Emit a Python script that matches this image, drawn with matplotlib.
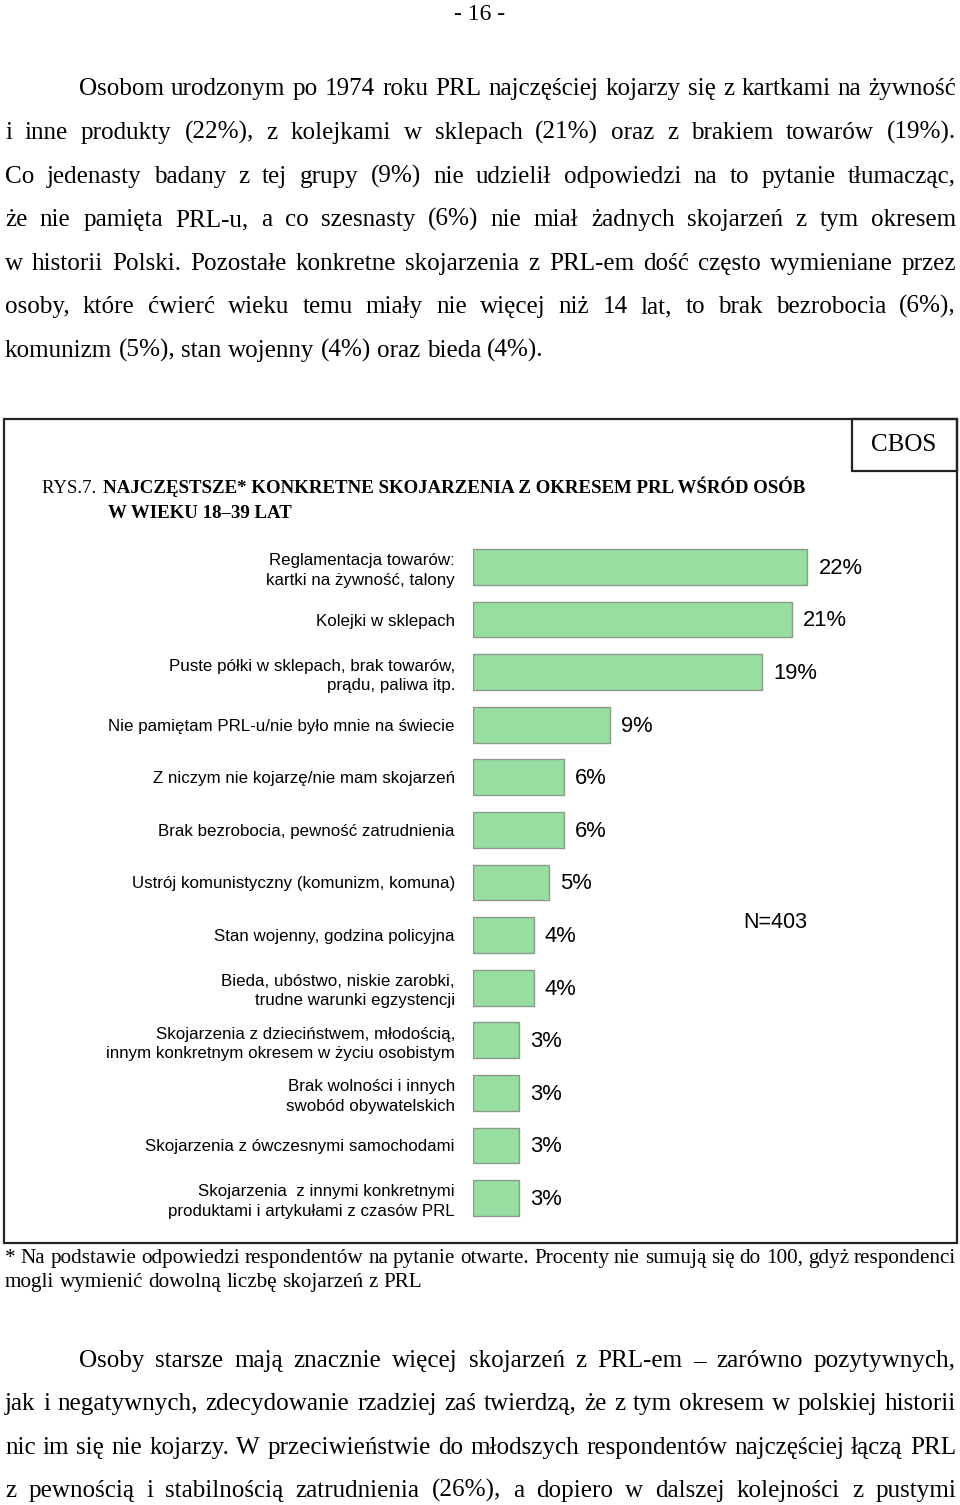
import matplotlib
matplotlib.use('Agg')
import matplotlib.pyplot as plt
from matplotlib.patches import Rectangle

# chart data
categories = [
    'Reglamentacja towarów:\nkartki na żywność, talony',
    'Kolejki w sklepach',
    'Puste półki w sklepach, brak towarów,\nprądu, paliwa itp.',
    'Nie pamiętam PRL-u/nie było mnie na świecie',
    'Z niczym nie kojarzę/nie mam skojarzeń',
    'Brak bezrobocia, pewność zatrudnienia',
    'Ustrój komunistyczny (komunizm, komuna)',
    'Stan wojenny, godzina policyjna',
    'Bieda, ubóstwo, niskie zarobki,\ntrudne warunki egzystencji',
    'Skojarzenia z dzieciństwem, młodością,\ninnym konkretnym okresem w życiu osobistym',
    'Brak wolności i innych\nswobód obywatelskich',
    'Skojarzenia z ówczesnymi samochodami',
    'Skojarzenia  z innymi konkretnymi\nproduktami i artykułami z czasów PRL',
]
values = [22, 21, 19, 9, 6, 6, 5, 4, 4, 3, 3, 3, 3]

title_prefix = 'RYS.7. '
title_line1 = 'NAJCZĘSTSZE* KONKRETNE SKOJARZENIA Z OKRESEM PRL WŚRÓD OSÓB'
title_line2 = 'W WIEKU 18–39 LAT'
sample_note = 'N=403'
source = 'CBOS'
page_no = '- 16 -'

para1 = [
    'Osobom urodzonym po 1974 roku PRL najczęściej kojarzy się z kartkami na żywność',
    'i inne produkty (22%), z kolejkami w sklepach (21%) oraz z brakiem towarów (19%).',
    'Co jedenasty badany z tej grupy (9%) nie udzielił odpowiedzi na to pytanie tłumacząc,',
    'że nie pamięta PRL-u, a co szesnasty (6%) nie miał żadnych skojarzeń z tym okresem',
    'w historii Polski. Pozostałe konkretne skojarzenia z PRL-em dość często wymieniane przez',
    'osoby, które ćwierć wieku temu miały nie więcej niż 14 lat, to brak bezrobocia (6%),',
    'komunizm (5%), stan wojenny (4%) oraz bieda (4%).',
]
footnote = [
    '* Na podstawie odpowiedzi respondentów na pytanie otwarte. Procenty nie sumują się do 100, gdyż respondenci',
    'mogli wymienić dowolną liczbę skojarzeń z PRL',
]
para2 = [
    'Osoby starsze mają znacznie więcej skojarzeń z PRL-em – zarówno pozytywnych,',
    'jak i negatywnych, zdecydowanie rzadziej zaś twierdzą, że z tym okresem w polskiej historii',
    'nic im się nie kojarzy. W przeciwieństwie do młodszych respondentów najczęściej łączą PRL',
    'z pewnością i stabilnością zatrudnienia (26%), a dopiero w dalszej kolejności z pustymi',
]

W, H = 960, 1505
fig = plt.figure(figsize=(W / 100, H / 100), dpi=100)

# page overlay in pixel coordinates
page = fig.add_axes([0, 0, 1, 1])
page.set_xlim(0, W)
page.set_ylim(H, 0)
page.axis('off')
page.patch.set_alpha(0)

renderer = fig.canvas.get_renderer()
SERIF = 'Liberation Serif'
SANS = 'Liberation Sans'


def text_width(s, size):
    t = page.text(0, 0, s, fontsize=size, family=SERIF)
    w = t.get_window_extent(renderer).width
    t.remove()
    return w


def write_line(text, x0, x1, y, size, justify=True):
    words = text.split()
    objs = []
    widths = []
    for w in words:
        t = page.text(0, y, w, fontsize=size, family=SERIF, va='baseline', ha='left')
        objs.append(t)
        widths.append(t.get_window_extent(renderer).width)
    if justify and len(words) > 1:
        gap = (x1 - x0 - sum(widths)) / (len(words) - 1)
    else:
        gap = text_width('a a', size) - 2 * text_width('a', size)
    x = x0
    for t, w in zip(objs, widths):
        t.set_x(x)
        x += w + gap


page.text(480, 20, page_no, fontsize=17, family=SERIF, ha='center', va='baseline')

ys1 = [95, 139, 183, 226, 270, 313, 357]
for i, (line, y) in enumerate(zip(para1, ys1)):
    x0 = 79 if i == 0 else 5
    write_line(line, x0, 956, y, 18.1, justify=(i < len(para1) - 1))

ys2 = [1367, 1410, 1454, 1497]
for i, (line, y) in enumerate(zip(para2, ys2)):
    x0 = 79 if i == 0 else 5
    write_line(line, x0, 956, y, 18.1, justify=True)

write_line(footnote[0], 5, 956, 1263, 15.2, justify=True)
write_line(footnote[1], 5, 956, 1287, 15.2, justify=False)

# chart frame and source box
page.add_patch(Rectangle((4, 419), 953, 824, fill=False, lw=1.6, ec='#222222'))
page.add_patch(Rectangle((852, 419), 105, 52, fill=False, lw=1.6, ec='#222222'))
page.text(904, 445, source, fontsize=18, family=SERIF, ha='center', va='center')

# title
page.text(42, 493, title_prefix, fontsize=13.5, family=SERIF, va='baseline')
page.text(103, 493, title_line1, fontsize=13.6, family=SERIF, weight='bold', va='baseline')
page.text(108, 518, title_line2, fontsize=13.6, family=SERIF, weight='bold', va='baseline')

page.text(775, 922, sample_note, fontsize=15.5, family=SANS, ha='center', va='center')

# bar chart
px_per_pct = 15.2
n = len(values)
step = 52.58
top = 567 - step / 2
ax_w = px_per_pct * 30
ax_h = step * n
ax = fig.add_axes([473 / W, 1 - (top + ax_h) / H, ax_w / W, ax_h / H])
ax.patch.set_alpha(0)
pos = list(range(n))
ax.barh(pos, values, height=0.68, color='#98dea0', edgecolor='#8c9a8c', linewidth=1)
ax.set_xlim(0, 30)
ax.set_ylim(n - 0.5, -0.5)
for s in ax.spines.values():
    s.set_visible(False)
ax.set_xticks([])
ax.set_yticks(pos)
ax.set_yticklabels(categories, fontsize=12.2, family=SANS, linespacing=1.35)
ax.tick_params(axis='y', length=0, pad=13)
for p, v in zip(pos, values):
    ax.annotate(f'{v}%', (v, p), xytext=(8, -1), textcoords='offset points',
                fontsize=15.8, family=SANS, va='center', ha='left')

fig.savefig('out.png', dpi=100)
